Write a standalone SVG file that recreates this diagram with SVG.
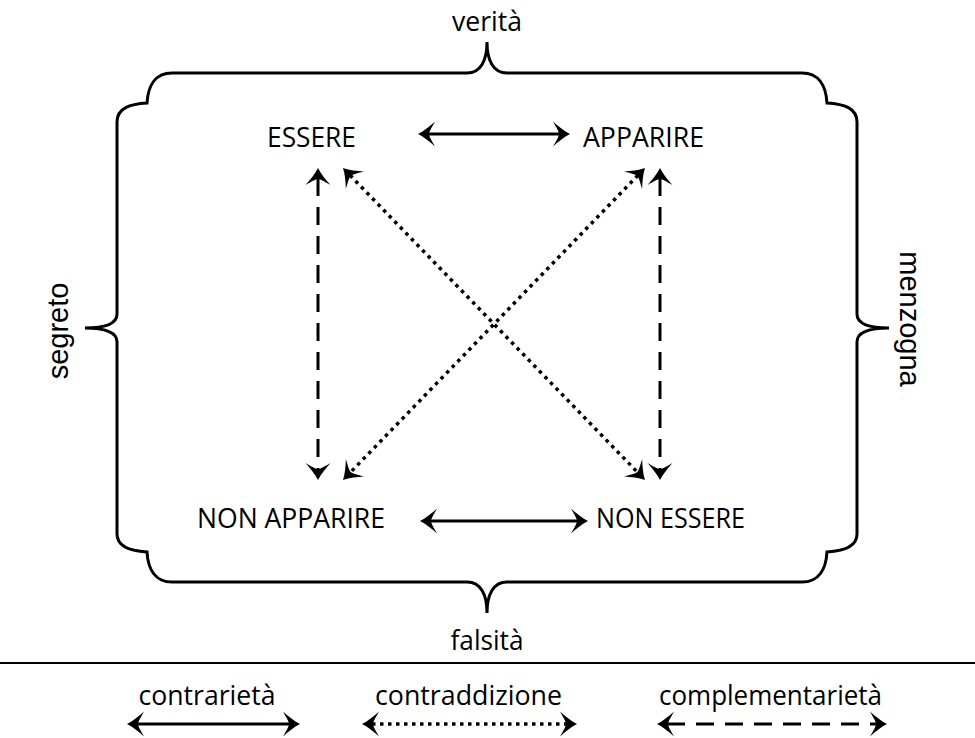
<svg xmlns="http://www.w3.org/2000/svg" width="975" height="738" viewBox="0 0 975 738">
<style>
.t{font-family:"Open Sans","Noto Sans","Liberation Sans",sans-serif;font-size:27px;fill:#000;text-anchor:middle}
.r{font-family:"Liberation Sans",Arial,sans-serif;font-size:29px;fill:#000;text-anchor:middle}
.ln{stroke:#000;stroke-width:3;fill:none}
.dot{stroke-dasharray:3.5 4.5;stroke-width:3.5}
.dash{stroke-dasharray:18 11}
.arr{marker-start:url(#ah);marker-end:url(#ah)}
</style>
<defs>
<marker id="ah" markerUnits="userSpaceOnUse" markerWidth="30" markerHeight="30" refX="0" refY="0" viewBox="-15 -15 30 30" orient="auto-start-reverse" overflow="visible">
<path d="M10,0 C4,-3 -2,-8 -7,-12.5 C-3,-5.5 -1,-2 -1,0 C-1,2 -3,5.5 -7,12.5 C-2,8 4,3 10,0 Z" fill="#000"/>
</marker>
</defs>
<rect width="975" height="738" fill="#fff"/>
<g id="brace">
<path class="ln" d="M487,42 C487,60 481,73 467,73 L172,73 C155,73 148,86 147,103 C130,104 117,108 117,122 L117,314 C117,322 108,328 85,328 C108,328 117,334 117,342 L117,534 C117,547 130,551 147,552 C148,569 155,582 172,582 L467,582 C481,582 487,595 487,613 C487,595 493,582 507,582 L802,582 C819,582 826,569 827,552 C844,551 857,547 857,534 L857,342 C857,334 866,328 889,328 C866,328 857,322 857,314 L857,122 C857,108 844,104 827,103 C826,86 819,73 802,73 L507,73 C493,73 487,60 487,42 Z"/>
</g>
<g id="label-verita"><text class="t" x="487" y="31" textLength="70" lengthAdjust="spacingAndGlyphs">verità</text></g>
<g id="label-falsita"><text class="t" x="487" y="650" textLength="73" lengthAdjust="spacingAndGlyphs">falsità</text></g>
<g id="label-segreto"><text class="r" transform="translate(68,331) rotate(-90)">segreto</text></g>
<g id="label-menzogna"><text class="r" transform="translate(900,319) rotate(90)">menzogna</text></g>
<g id="node-essere"><text class="t" x="311.5" y="147" textLength="89" lengthAdjust="spacingAndGlyphs">ESSERE</text></g>
<g id="node-apparire"><text class="t" x="643.5" y="147" textLength="121" lengthAdjust="spacingAndGlyphs">APPARIRE</text></g>
<g id="node-non-apparire"><text class="t" x="291" y="528" textLength="188" lengthAdjust="spacingAndGlyphs">NON APPARIRE</text></g>
<g id="node-non-essere"><text class="t" x="670.5" y="528" textLength="149" lengthAdjust="spacingAndGlyphs">NON ESSERE</text></g>
<g id="connectors">
<line class="ln arr" x1="428" y1="134" x2="560" y2="134"/>
<line class="ln arr" x1="430" y1="521" x2="578" y2="521"/>
<line class="ln dash arr" x1="318" y1="178" x2="318" y2="470"/>
<line class="ln dash arr" x1="660" y1="178" x2="660" y2="470"/>
<line class="ln dot arr" x1="350" y1="175.2" x2="638" y2="472.8"/>
<line class="ln dot arr" x1="638" y1="175.2" x2="350" y2="472.8"/>
</g>
<g id="legend">
<line x1="0" y1="663" x2="975" y2="663" stroke="#000" stroke-width="2"/>
<text class="t" x="207" y="705" textLength="137" lengthAdjust="spacingAndGlyphs">contrarietà</text>
<text class="t" x="468.5" y="705" textLength="187" lengthAdjust="spacingAndGlyphs">contraddizione</text>
<text class="t" x="770.5" y="705" textLength="223" lengthAdjust="spacingAndGlyphs">complementarietà</text>
<line class="ln arr" x1="137" y1="724" x2="290" y2="724"/>
<line class="ln dot arr" x1="372" y1="724" x2="567" y2="724"/>
<line class="ln dash arr" x1="667" y1="724" x2="877" y2="724"/>
</g>
</svg>
